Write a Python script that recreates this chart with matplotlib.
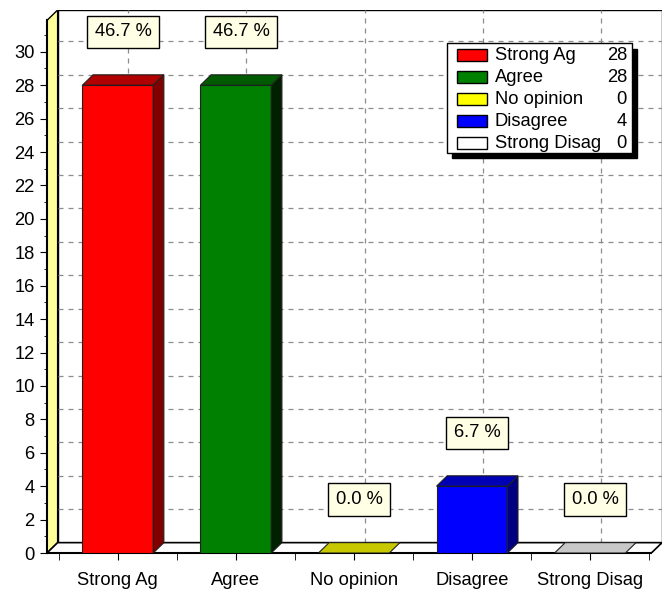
import matplotlib.pyplot as plt
from matplotlib.patches import Polygon, Rectangle

categories = ['Strong Ag', 'Agree', 'No opinion', 'Disagree', 'Strong Disag']
counts = [28, 28, 0, 4, 0]
front_colors = ['#ff0000', '#008000', '#ffff00', '#0000ff', '#ffffff']
top_colors = ['#b00000', '#005a00', '#c8c800', '#0000b4', '#c8c8c8']
side_colors = ['#800000', '#002000', '#8a8a00', '#000080', '#a0a0a0']

plt.rcParams['font.family'] = ['Liberation Sans', 'DejaVu Sans']
fs = 13.2

fig = plt.figure(figsize=(6.7, 5.92), dpi=100)
ax = fig.add_axes([47 / 670, 39 / 592, 615 / 670, 543 / 592])
x0, x1 = -0.6, 4.61
ymax = 32.5
dx, dy = 0.09, 0.62
w = 0.6
ax.set_xlim(x0, x1)
ax.set_ylim(0, ymax)

total = sum(counts)
xs = list(range(len(categories)))

# back wall + left wall
ax.add_patch(Polygon([(x0 + dx, dy), (x1, dy), (x1, ymax), (x0 + dx, ymax)],
                     closed=True, facecolor='white', edgecolor='black', lw=1, zorder=0))
ax.add_patch(Polygon([(x0, 0), (x0 + dx, dy), (x0 + dx, ymax), (x0, ymax - dy)],
                     closed=True, facecolor='#ffff99', edgecolor='black', lw=1, zorder=1))

# grid on the back wall
for yv in range(2, 32, 2):
    ax.plot([x0 + dx, x1], [yv + dy, yv + dy], color='#8c8c8c', lw=0.9,
            ls=(0, (4, 4)), zorder=1)
for xv in xs:
    ax.plot([xv + dx, xv + dx], [dy, ymax], color='#8c8c8c', lw=0.9,
            ls=(0, (4, 4)), zorder=1)

# floor
ax.add_patch(Polygon([(x0, 0), (x1 - dx, 0), (x1, dy), (x0 + dx, dy)],
                     closed=True, facecolor='white', edgecolor='black', lw=1.2, zorder=2))

# bars
for xv, v, fc, tc, sc in zip(xs, counts, front_colors, top_colors, side_colors):
    l, r = xv - w / 2, xv + w / 2
    if v > 0:
        ax.add_patch(Rectangle((l, 0), w, v, facecolor=fc, edgecolor='#202020',
                               lw=0.8, zorder=3))
        ax.add_patch(Polygon([(r, 0), (r + dx, dy), (r + dx, v + dy), (r, v)],
                             closed=True, facecolor=sc, edgecolor='#202020', lw=0.8, zorder=3))
    ax.add_patch(Polygon([(l, v), (l + dx, v + dy), (r + dx, v + dy), (r, v)],
                         closed=True, facecolor=tc, edgecolor='#202020', lw=0.8, zorder=3))
    ax.text(xv + dx / 2, v + 3.2, '%.1f %%' % (v / total * 100), ha='center', va='center',
            fontsize=fs, zorder=5,
            bbox=dict(boxstyle='square,pad=0.42', facecolor='#ffffe6', edgecolor='black', lw=1))

# axes
for s in ['top', 'right']:
    ax.spines[s].set_visible(False)
ax.spines['left'].set_bounds(0, ymax - dy)
ax.spines['bottom'].set_bounds(x0, x1 - dx)
ax.spines['left'].set_linewidth(1.5)
ax.spines['bottom'].set_linewidth(1.5)
ax.spines['left'].set_zorder(4)
ax.set_yticks(range(0, 31, 2))
ax.set_yticks(range(0, 32), minor=True)
ax.set_xticks(xs)
ax.set_xticklabels(categories)
ax.set_xticks([x + 0.5 for x in range(-1, 5)], minor=True)
ax.tick_params(axis='y', labelsize=fs, length=5, pad=4)
ax.tick_params(axis='y', which='minor', length=2)
ax.tick_params(axis='x', which='both', length=5, labelsize=fs, pad=9)

# legend
lx0, lx1, ly0, ly1 = 0.650, 0.951, 0.737, 0.939
ax.add_patch(Rectangle((lx0 + 0.009, ly0 - 0.010), lx1 - lx0, ly1 - ly0, transform=ax.transAxes,
                       facecolor='black', edgecolor='black', zorder=6))
ax.add_patch(Rectangle((lx0, ly0), lx1 - lx0, ly1 - ly0, transform=ax.transAxes,
                       facecolor='white', edgecolor='black', lw=1, zorder=7))
for i, (c, v, fc) in enumerate(zip(categories, counts, front_colors)):
    yy = 0.917 - i * 0.0405
    ax.add_patch(Rectangle((0.666, yy - 0.011), 0.049, 0.022, transform=ax.transAxes,
                           facecolor=fc, edgecolor='black', lw=1, zorder=8))
    ax.text(0.728, yy, c, transform=ax.transAxes, ha='left', va='center', fontsize=fs, zorder=8)
    ax.text(0.943, yy, str(v), transform=ax.transAxes, ha='right', va='center', fontsize=fs, zorder=8)

fig.savefig('out.png', dpi=100)
